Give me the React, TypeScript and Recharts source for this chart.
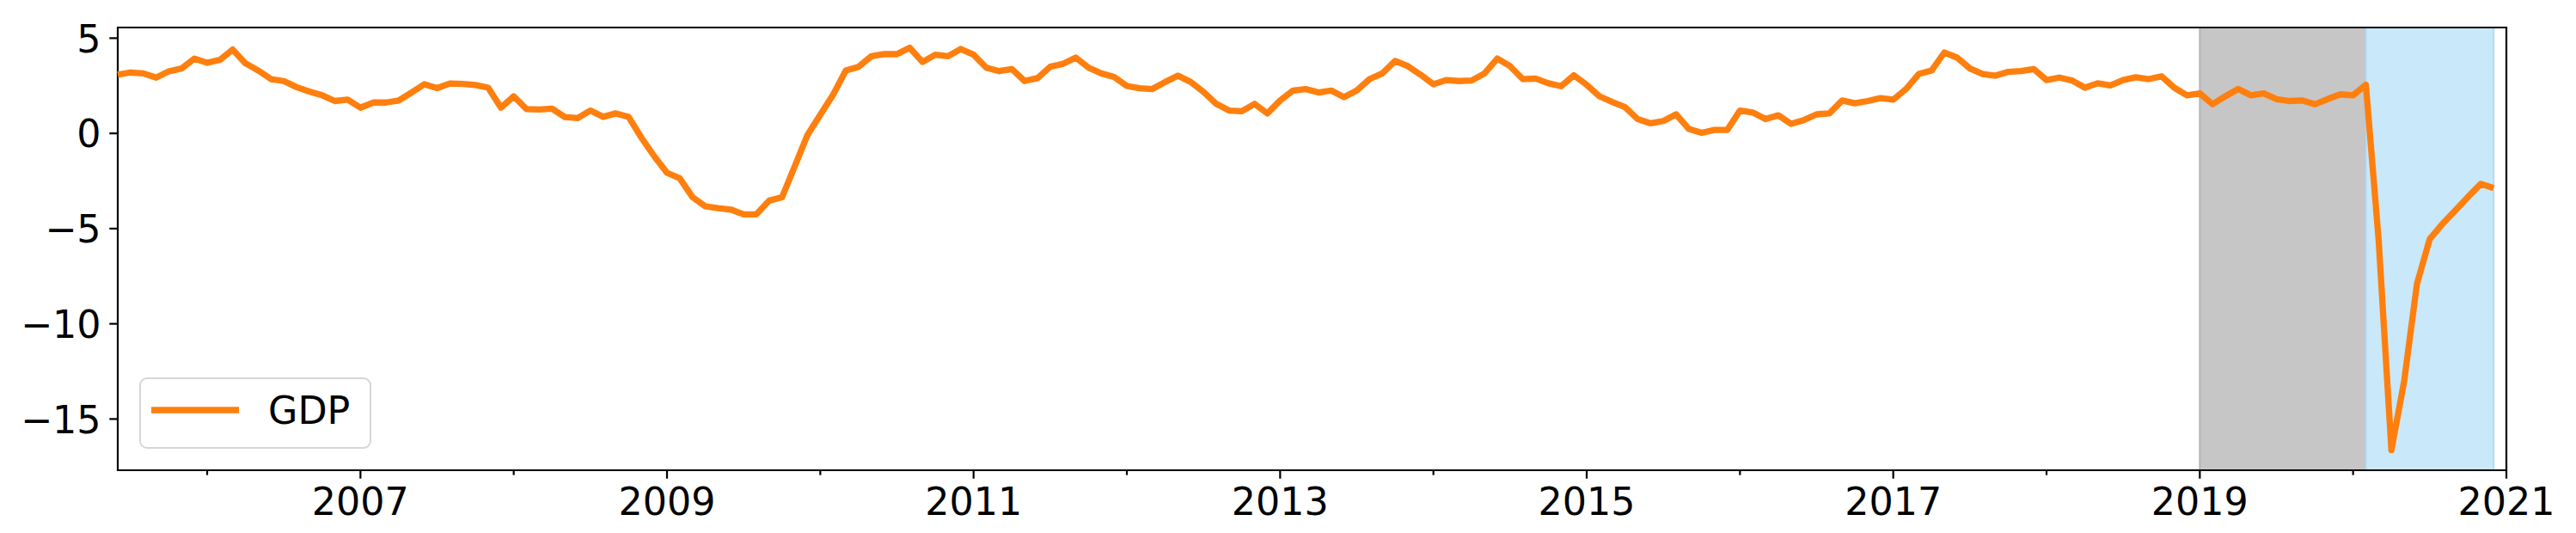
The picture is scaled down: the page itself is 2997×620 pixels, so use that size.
import { LineChart, Line, XAxis, YAxis, ReferenceArea } from "recharts";

// monthly series, first point is 2005-06
const START_YEAR = 2005;
const START_MONTH = 6;

const gdp2005 = [3.08, 3.2, 3.15, 2.93, 3.26, 3.41, 3.93];
const gdp2006 = [3.71, 3.86, 4.4, 3.68, 3.3, 2.85, 2.75, 2.43, 2.2, 2.0, 1.7, 1.77];
const gdp2007 = [1.35, 1.62, 1.62, 1.73, 2.15, 2.58, 2.38, 2.62, 2.6, 2.54, 2.4, 1.35];
const gdp2008 = [1.95, 1.28, 1.25, 1.3, 0.86, 0.8, 1.2, 0.87, 1.05, 0.86, -0.23, -1.2];
const gdp2009 = [-2.07, -2.36, -3.35, -3.83, -3.93, -4.0, -4.25, -4.25, -3.53, -3.36, -1.73, -0.08];
const gdp2010 = [0.98, 2.03, 3.3, 3.5, 4.05, 4.17, 4.16, 4.5, 3.75, 4.13, 4.05, 4.43];
const gdp2011 = [4.13, 3.45, 3.27, 3.38, 2.75, 2.9, 3.5, 3.65, 3.98, 3.45, 3.15, 2.96];
const gdp2012 = [2.49, 2.37, 2.33, 2.7, 3.03, 2.7, 2.18, 1.55, 1.2, 1.16, 1.55, 1.05];
const gdp2013 = [1.73, 2.25, 2.33, 2.15, 2.25, 1.9, 2.25, 2.85, 3.15, 3.8, 3.53, 3.08];
const gdp2014 = [2.58, 2.8, 2.75, 2.78, 3.15, 3.93, 3.53, 2.85, 2.88, 2.63, 2.48, 3.05];
const gdp2015 = [2.55, 1.95, 1.65, 1.38, 0.75, 0.53, 0.65, 1.0, 0.23, 0.03, 0.18, 0.18];
const gdp2016 = [1.2, 1.1, 0.75, 0.95, 0.5, 0.7, 1.0, 1.05, 1.73, 1.58, 1.7, 1.85];
const gdp2017 = [1.77, 2.33, 3.12, 3.3, 4.25, 3.98, 3.41, 3.12, 3.03, 3.23, 3.27, 3.38];
const gdp2018 = [2.8, 2.93, 2.78, 2.4, 2.63, 2.52, 2.8, 2.95, 2.85, 3.0, 2.4, 2.0];
const gdp2019 = [2.1, 1.53, 1.95, 2.33, 2.0, 2.1, 1.8, 1.7, 1.73, 1.53, 1.8, 2.05];
const gdp2020 = [2.0, 2.55, -5.6, -16.63, -13.0, -7.9, -5.55, -4.75, -4.05, -3.33, -2.65, -2.87];

const yearTicks = [2006, 2007, 2008, 2009, 2010, 2011, 2012, 2013, 2014, 2015, 2016, 2017, 2018, 2019, 2020, 2021];
const yTicks = [5, 0, -5, -10, -15];
const yDomain = [-17.69, 5.56];

const spans = [
  { from: [2019, 1], to: [2020, 2], fill: "#c6c6c6", edge: "#b4b4b4" },
  { from: [2020, 2], to: [2020, 12], fill: "#c9e8fa", edge: "#b3daf2" },
];

const monthIndex = (y: number, m: number) => (y - START_YEAR) * 12 + (m - START_MONTH);

const series = [
  ...gdp2005, ...gdp2006, ...gdp2007, ...gdp2008, ...gdp2009, ...gdp2010, ...gdp2011, ...gdp2012,
  ...gdp2013, ...gdp2014, ...gdp2015, ...gdp2016, ...gdp2017, ...gdp2018, ...gdp2019, ...gdp2020,
];
const data = series.map((v, i) => ({ t: i, gdp: v }));

const FONT = "DejaVu Sans";
const FS = 44.4;
const ORANGE = "#ff7f0e";
const LW = 7.3;

function XTick({ x, y, payload }: any) {
  const year = START_YEAR + (payload.value + START_MONTH - 1) / 12;
  const major = year % 2 === 1;
  return (
    <g>
      <line x1={x} x2={x} y1={y} y2={y + (major ? 9.7 : 5.6)} stroke="#000" strokeWidth={2.2} />
      {major && (
        <text x={x} y={y + 52} textAnchor="middle" fontSize={FS} fontFamily={FONT} fill="#000">
          {year}
        </text>
      )}
    </g>
  );
}

function YTick({ x, y, payload }: any) {
  const label = String(payload.value).replace("-", "\u2212");
  return (
    <g>
      <line x1={x - 9.7} x2={x} y1={y} y2={y} stroke="#000" strokeWidth={2.2} />
      <text x={x - 19.4} y={y + 16.2} textAnchor="end" fontSize={FS} fontFamily={FONT} fill="#000">
        {label}
      </text>
    </g>
  );
}

export default function App() {
  const xMax = monthIndex(2021, 1);
  return (
    <div style={{ position: "absolute", left: 0, top: 0, width: 2997, height: 620, background: "#fff" }}>
      <LineChart width={2997} height={620} data={data} margin={{ top: 32, right: 81, left: 0, bottom: 0 }}>
        {spans.map((s, i) => (
          <ReferenceArea
            key={i}
            x1={monthIndex(s.from[0], s.from[1])}
            x2={monthIndex(s.to[0], s.to[1])}
            y1={yDomain[0]}
            y2={yDomain[1]}
            fill={s.fill}
            fillOpacity={1}
            stroke={s.edge}
            strokeWidth={2}
          />
        ))}
        <XAxis
          dataKey="t"
          type="number"
          domain={[0, xMax]}
          ticks={yearTicks.map((yr) => monthIndex(yr, 1))}
          interval={0}
          height={73}
          axisLine={false}
          tickLine={false}
          tickSize={0}
          tickMargin={0}
          tick={<XTick />}
        />
        <YAxis
          type="number"
          domain={yDomain}
          ticks={yTicks}
          interval={0}
          width={137}
          axisLine={false}
          tickLine={false}
          tickSize={0}
          tickMargin={0}
          tick={<YTick />}
        />
        <Line
          type="linear"
          dataKey="gdp"
          stroke={ORANGE}
          strokeWidth={LW}
          strokeLinejoin="round"
          dot={false}
          activeDot={false}
          isAnimationActive={false}
        />
        <ReferenceArea
          x1={0}
          x2={xMax}
          y1={yDomain[0]}
          y2={yDomain[1]}
          fill="none"
          stroke="#000"
          strokeWidth={2.2}
        />
      </LineChart>
      <div
        style={{
          position: "absolute",
          left: 162,
          top: 439,
          width: 270,
          height: 83,
          boxSizing: "border-box",
          border: "2px solid #d6d6d6",
          borderRadius: 9,
          background: "rgba(255,255,255,0.8)",
        }}
      >
        <svg width={270} height={83} style={{ position: "absolute", left: -2, top: -2 }}>
          <line x1={14} x2={116} y1={38} y2={38} stroke={ORANGE} strokeWidth={LW} />
          <text x={150} y={54} fontSize={FS} fontFamily={FONT} fill="#000">
            GDP
          </text>
        </svg>
      </div>
    </div>
  );
}
